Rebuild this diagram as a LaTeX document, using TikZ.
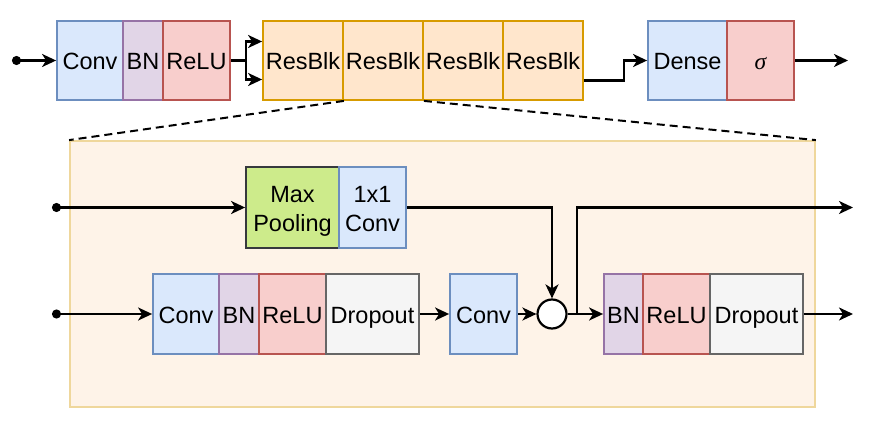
\documentclass[tikz,border=0pt]{standalone}
\usepackage{fontspec}
\setmainfont{Liberation Sans}
\newfontfamily\greekfont{Liberation Serif}
\usepackage{xcolor}
\usepackage{tikz}
\usetikzlibrary{arrows.meta, calc}
\definecolor{convfill}{HTML}{DAE8FC}
\definecolor{convline}{HTML}{6C8EBF}
\definecolor{normfill}{HTML}{E1D5E7}
\definecolor{normline}{HTML}{9673A6}
\definecolor{actfill}{HTML}{F8CECC}
\definecolor{actline}{HTML}{B85450}
\definecolor{blkfill}{HTML}{FFE6CC}
\definecolor{blkline}{HTML}{D79B00}
\definecolor{poolfill}{HTML}{CDEB8B}
\definecolor{poolline}{HTML}{36393D}
\definecolor{dropfill}{HTML}{F5F5F5}
\definecolor{dropline}{HTML}{666666}
\definecolor{zoomfill}{HTML}{FEF3E8}
\definecolor{zoomline}{HTML}{EFD79C}

\begin{document}
\begin{tikzpicture}[
  x=1pt, y=-1pt,
  box/.style={draw, line width=1.8pt, inner sep=0pt, minimum height=79pt, align=center,
    text height=20pt, text depth=2pt, font=\fontsize{23.5}{29}\selectfont},
  twoline/.style={text height=49pt, text depth=0pt},
  convbox/.style={box, fill=convfill, draw=convline},
  normbox/.style={box, fill=normfill, draw=normline},
  actbox/.style={box, fill=actfill, draw=actline},
  blkbox/.style={box, fill=blkfill, draw=blkline, minimum width=80pt},
  poolbox/.style={box, fill=poolfill, draw=poolline},
  dropbox/.style={box, fill=dropfill, draw=dropline},
  conn/.style={line width=2.2pt, -{Stealth[length=14pt, width=13pt, inset=4pt]}},
  inconn/.style={line width=2.2pt, {Circle[length=9pt]}-{Stealth[length=14pt, width=13pt, inset=4pt]}},
]
\useasboundingbox (0,0) rectangle (870,422);

% zoomed residual block (background)
\node[draw=zoomline, fill=zoomfill, line width=1.8pt, minimum width=745pt, minimum height=266pt]
  (zoom) at (442.5,274) {};

% top row
\node[convbox, minimum width=66pt] (conv)  at (90,60.5)    {Conv};
\node[normbox, minimum width=40pt] (bn)    at (143,60.5)   {BN};
\node[actbox,  minimum width=67pt] (relu)  at (196.5,60.5) {ReLU};
\node[blkbox] (rb1) at (303,60.5) {ResBlk};
\node[blkbox] (rb2) at (383,60.5) {ResBlk};
\node[blkbox] (rb3) at (463,60.5) {ResBlk};
\node[blkbox] (rb4) at (543,60.5) {ResBlk};
\node[convbox, minimum width=79pt] (dense) at (687.5,60.5) {Dense};
\node[actbox,  minimum width=67pt] (sig)   at (760.5,60.5) {\greekfont\itshape σ};

\coordinate (in)  at (12,60.5);
\coordinate (out) at (848,60.5);

\draw[inconn] (in) -- (conv.west);
\draw[line width=2.2pt] (relu.east) -- ++(15,0) coordinate (fork);
\draw[conn] (fork) |- ([yshift=19pt]rb1.west);
\draw[conn] (fork) |- ([yshift=-19pt]rb1.west);
\draw[conn] ([yshift=-20pt]rb4.east) -- ++(40,0) |- (dense.west);
\draw[conn] (sig.east) -- (out);

\draw[line width=2pt, dash pattern=on 8pt off 5pt] (rb1.south east) -- (zoom.north west);
\draw[line width=2pt, dash pattern=on 8pt off 5pt] (rb2.south east) -- (zoom.north east);

% inside the block: shortcut
\node[poolbox, twoline, minimum width=93pt, minimum height=81pt] (pool) at (292.5,207.5) {Max\\Pooling};
\node[convbox, twoline, minimum width=67pt, minimum height=81pt] (proj) at (372.5,207.5) {1x1\\Conv};

% inside the block: main path
\node[convbox, minimum width=66pt, minimum height=80pt] (conv2) at (186,314)   {Conv};
\node[normbox, minimum width=40pt, minimum height=80pt] (bn2)   at (239,314)   {BN};
\node[actbox,  minimum width=67pt, minimum height=80pt] (relu2) at (292.5,314) {ReLU};
\node[dropbox, minimum width=93pt, minimum height=80pt] (drop2) at (372.5,314) {Dropout};
\node[convbox, minimum width=67pt, minimum height=80pt] (conv3) at (483.5,314) {Conv};
\node[draw, circle, line width=2.2pt, fill=white, minimum size=29pt, inner sep=0pt] (add) at (552,314) {};
\node[normbox, minimum width=39pt, minimum height=80pt] (bn3)   at (623.5,314) {BN};
\node[actbox,  minimum width=67pt, minimum height=80pt] (relu3) at (676.5,314) {ReLU};
\node[dropbox, minimum width=93pt, minimum height=80pt] (drop3) at (756.5,314) {Dropout};

\coordinate (in2)   at (52,207.5);
\coordinate (in3)   at (52,314);
\coordinate (split) at (577,314);
\coordinate (out2)  at (853,207.5);
\coordinate (out3)  at (853,314);

\draw[inconn] (in2) -- (pool.west);
\draw[conn] (proj.east) -| (add.north);
\draw[inconn] (in3) -- (conv2.west);
\draw[conn] (drop2.east) -- (conv3.west);
\draw[conn] (conv3.east) -- (add.west);
\draw[conn] (add.east) -- (bn3.west);
\draw[conn] (split) |- (out2);
\draw[conn] (drop3.east) -- (out3);
\end{tikzpicture}
\end{document}
